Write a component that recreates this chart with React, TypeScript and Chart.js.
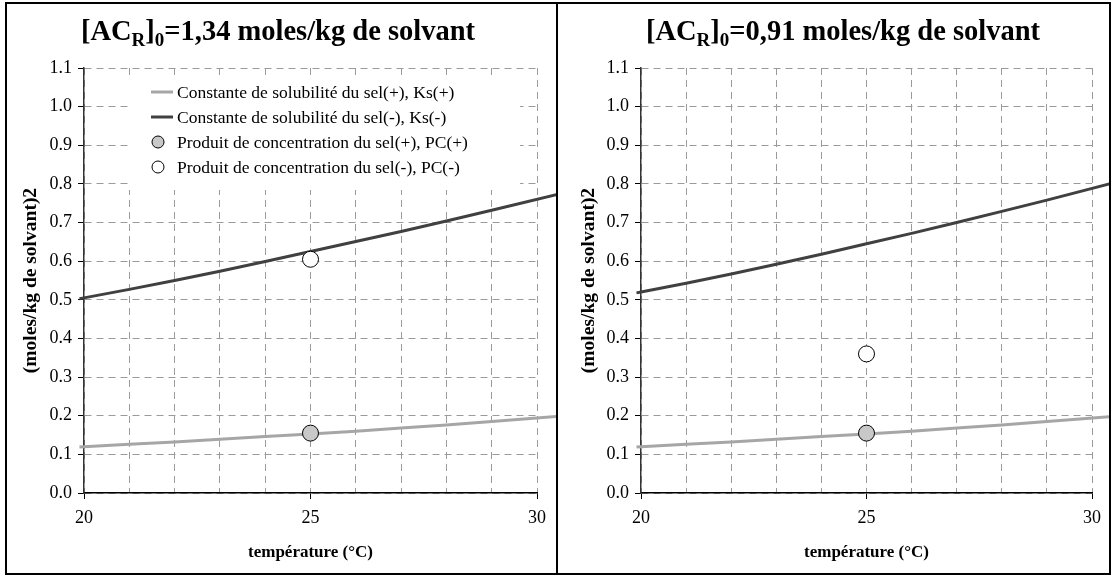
import React, { useEffect, useRef } from "react";
import { Chart, registerables } from "chart.js";

Chart.register(...registerables);

// ---------- data ----------
const TEMPERATURES = [19.9, 20, 21, 22, 23, 24, 25, 26, 27, 28, 29, 30.45];
const KS_PLUS_LEFT = [0.119, 0.12, 0.126, 0.132, 0.139, 0.146, 0.153, 0.16, 0.168, 0.176, 0.185, 0.198];
const KS_MINUS_LEFT = [0.503, 0.505, 0.527, 0.55, 0.574, 0.599, 0.625, 0.651, 0.677, 0.704, 0.732, 0.773];
const KS_PLUS_RIGHT = [0.119, 0.12, 0.126, 0.132, 0.139, 0.146, 0.153, 0.16, 0.168, 0.176, 0.185, 0.198];
const KS_MINUS_RIGHT = [0.518, 0.52, 0.543, 0.567, 0.592, 0.618, 0.645, 0.672, 0.7, 0.729, 0.758, 0.802];
const PC_TEMPERATURE = [25];
const PC_PLUS_LEFT = [0.155];
const PC_MINUS_LEFT = [0.605];
const PC_PLUS_RIGHT = [0.155];
const PC_MINUS_RIGHT = [0.36];

const SERIES_LABELS = [
  "Constante de solubilité du sel(+), Ks(+)",
  "Constante de solubilité du sel(-), Ks(-)",
  "Produit de concentration du sel(+), PC(+)",
  "Produit de concentration du sel(-), PC(-)",
];
// title pieces: [text, isSubscript]
const TITLE_LEFT: [string, boolean][] = [["[AC", false], ["R", true], ["]", false], ["0", true], ["=1,34 moles/kg de solvant", false]];
const TITLE_RIGHT: [string, boolean][] = [["[AC", false], ["R", true], ["]", false], ["0", true], ["=0,91 moles/kg de solvant", false]];
const X_TITLE = "température (°C)";
const Y_TITLE = "(moles/kg de solvant)2";
const X_MIN = 20;
const X_MAX = 30;
const Y_MIN = 0;
const Y_MAX = 1.1;

const FONT = "'Liberation Serif', 'Times New Roman', serif";
const LIGHT = "#a6a6a6";
const DARK = "#404040";

function pts(xs: number[], ys: number[]) {
  return xs.map((x, i) => ({ x, y: ys[i] }));
}

type PanelProps = {
  boxLeft: number;
  boxWidth: number;
  plotLeft: number;
  padRight: number;
  yTitlePad: number;
  titleCenter: number;
  title: [string, boolean][];
  ksPlus: number[];
  ksMinus: number[];
  pcPlus: number[];
  pcMinus: number[];
  legend: boolean;
};

function Panel(p: PanelProps) {
  const ref = useRef<HTMLCanvasElement | null>(null);
  const innerW = p.boxWidth - 4;
  const innerH = 573 - 4;

  useEffect(() => {
    const canvas = ref.current;
    if (!canvas) return;

    const titlePlugin = {
      id: "richTitle",
      afterDraw(chart: any) {
        const ctx = chart.ctx;
        ctx.save();
        ctx.fillStyle = "#000";
        ctx.textBaseline = "alphabetic";
        const big = `bold 28.5px ${FONT}`;
        const small = `bold 19px ${FONT}`;
        let total = 0;
        for (const [t, sub] of p.title) {
          ctx.font = sub ? small : big;
          total += ctx.measureText(t).width;
        }
        let x = p.titleCenter - total / 2;
        const base = 36;
        for (const [t, sub] of p.title) {
          ctx.font = sub ? small : big;
          ctx.fillText(t, x, sub ? base + 6 : base);
          x += ctx.measureText(t).width;
        }
        ctx.restore();
      },
    };

    const legendPlugin = {
      id: "innerLegend",
      afterDraw(chart: any) {
        if (!p.legend) return;
        const ctx = chart.ctx;
        ctx.save();
        ctx.fillStyle = "#fff";
        ctx.fillRect(121, 72, 392, 114);
        const ds = chart.data.datasets;
        const rows = [88, 113, 138, 163];
        ds.forEach((d: any, i: number) => {
          const y = rows[i];
          if (d.showLine === false) {
            ctx.beginPath();
            ctx.arc(151, y, 6, 0, Math.PI * 2);
            ctx.fillStyle = d.backgroundColor;
            ctx.fill();
            ctx.lineWidth = 1;
            ctx.strokeStyle = "#000";
            ctx.stroke();
          } else {
            ctx.beginPath();
            ctx.moveTo(144, y);
            ctx.lineTo(166, y);
            ctx.lineWidth = 3;
            ctx.strokeStyle = d.borderColor;
            ctx.stroke();
          }
          ctx.fillStyle = "#000";
          ctx.font = `17.5px ${FONT}`;
          ctx.textBaseline = "middle";
          ctx.fillText(d.label, 170, y + 1);
        });
        ctx.restore();
      },
    };

    const chart = new Chart(canvas, {
      type: "scatter",
      data: {
        datasets: [
          {
            label: SERIES_LABELS[0],
            data: pts(TEMPERATURES, p.ksPlus),
            showLine: true,
            borderColor: LIGHT,
            backgroundColor: LIGHT,
            borderWidth: 3,
            pointRadius: 0,
            clip: false,
            order: 2,
          },
          {
            label: SERIES_LABELS[1],
            data: pts(TEMPERATURES, p.ksMinus),
            showLine: true,
            borderColor: DARK,
            backgroundColor: DARK,
            borderWidth: 3,
            pointRadius: 0,
            clip: false,
            order: 2,
          },
          {
            label: SERIES_LABELS[2],
            data: pts(PC_TEMPERATURE, p.pcPlus),
            showLine: false,
            backgroundColor: "#c8c8c8",
            borderColor: "#000",
            borderWidth: 1,
            pointRadius: 8,
            clip: false,
            order: 1,
          },
          {
            label: SERIES_LABELS[3],
            data: pts(PC_TEMPERATURE, p.pcMinus),
            showLine: false,
            backgroundColor: "#ffffff",
            borderColor: "#000",
            borderWidth: 1,
            pointRadius: 8,
            clip: false,
            order: 1,
          },
        ],
      },
      options: {
        animation: false,
        responsive: false,
        devicePixelRatio: 1,
        layout: { padding: { top: 64, right: p.padRight, left: 0, bottom: 0 } },
        plugins: {
          legend: { display: false },
          tooltip: { enabled: false },
          title: { display: false },
        },
        scales: {
          x: {
            type: "linear",
            min: X_MIN,
            max: X_MAX,
            afterFit: (s: any) => {
              s.height = 80;
            },
            ticks: {
              stepSize: 1,
              autoSkip: false,
              maxRotation: 0,
              padding: 8,
              color: "#000",
              font: { family: FONT, size: 18 },
              callback: (v: any) => (Number(v) % 5 === 0 ? String(v) : ""),
            },
            grid: {
              color: "#9a9a9a",
              lineWidth: 1,
              tickLength: 6,
              tickBorderDash: [],
              tickColor: (c: any) => (c.tick && c.tick.value % 5 === 0 ? "#000" : "rgba(0,0,0,0)"),
            },
            border: { display: true, color: "#000", width: 1.5, dash: [7, 5] },
            title: {
              display: true,
              text: X_TITLE,
              color: "#000",
              font: { family: FONT, size: 17, weight: "bold" },
              padding: { top: 0, bottom: 10 },
            },
          },
          y: {
            type: "linear",
            min: Y_MIN,
            max: Y_MAX,
            afterFit: (s: any) => {
              s.width = p.plotLeft;
            },
            ticks: {
              stepSize: 0.1,
              padding: 6,
              color: "#000",
              font: { family: FONT, size: 18 },
              callback: (v: any) => Number(v).toFixed(1),
            },
            grid: {
              color: "#9a9a9a",
              lineWidth: 1,
              tickLength: 6,
              tickBorderDash: [],
              tickColor: "#000",
            },
            border: { display: true, color: "#333", width: 1.5, dash: [7, 5] },
            title: {
              display: true,
              text: Y_TITLE,
              color: "#000",
              font: { family: FONT, size: 19.5, weight: "bold" },
              padding: { top: p.yTitlePad, bottom: 0 },
            },
          },
        },
      } as any,
      plugins: [titlePlugin, legendPlugin],
    });
    return () => chart.destroy();
  }, []);

  return (
    <div
      style={{
        position: "absolute",
        left: p.boxLeft,
        top: 2,
        width: p.boxWidth,
        height: 573,
        boxSizing: "border-box",
        border: "2px solid #000",
        background: "#fff",
      }}
    >
      <canvas ref={ref} width={innerW} height={innerH} style={{ display: "block", width: innerW, height: innerH }} />
    </div>
  );
}

export default function App() {
  useEffect(() => {
    document.body.style.margin = "0";
    document.body.style.background = "#fff";
  }, []);
  return (
    <div style={{ position: "relative", width: 1115, height: 576, background: "#fff", overflow: "hidden" }}>
      <Panel
        boxLeft={5}
        boxWidth={553}
        plotLeft={77}
        padRight={19}
        yTitlePad={12}
        titleCenter={271}
        title={TITLE_LEFT}
        ksPlus={KS_PLUS_LEFT}
        ksMinus={KS_MINUS_LEFT}
        pcPlus={PC_PLUS_LEFT}
        pcMinus={PC_MINUS_LEFT}
        legend={true}
      />
      <Panel
        boxLeft={556}
        boxWidth={555}
        plotLeft={83}
        padRight={15}
        yTitlePad={19}
        titleCenter={285}
        title={TITLE_RIGHT}
        ksPlus={KS_PLUS_RIGHT}
        ksMinus={KS_MINUS_RIGHT}
        pcPlus={PC_PLUS_RIGHT}
        pcMinus={PC_MINUS_RIGHT}
        legend={false}
      />
    </div>
  );
}
